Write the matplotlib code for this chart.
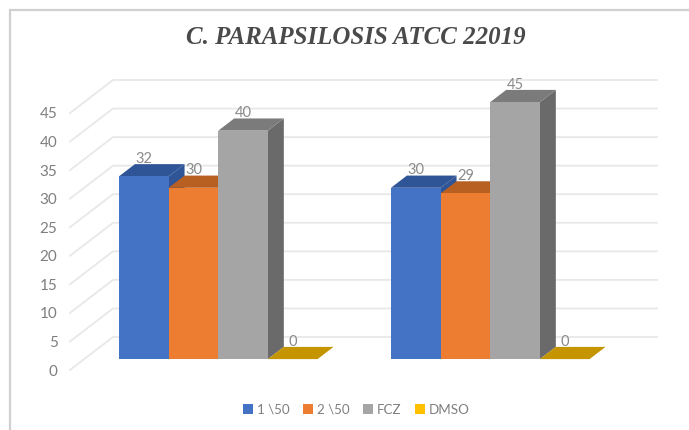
"""Grouped pseudo-3D bar chart: C. parapsilosis ATCC 22019."""
import matplotlib
matplotlib.use("Agg")
import matplotlib.pyplot as plt
from matplotlib.patches import Polygon, Rectangle, Patch

# ── Data ──────────────────────────────────────────────────────────────
GROUPS = [0, 1]
SERIES = ["1 \\50", "2 \\50", "FCZ", "DMSO"]
VALUES_1 = [32, 30, 40, 0]
VALUES_2 = [30, 29, 45, 0]
Y_TICKS = [0, 5, 10, 15, 20, 25, 30, 35, 40, 45]

# front, top and side shades per series
FRONT = ["#4472c4", "#ed7d31", "#a5a5a5", "#ffc000"]
TOP = ["#2f5597", "#b85f22", "#7b7b7b", "#c49500"]
SIDE = ["#2f5597", "#b85f22", "#6a6a6a", "#c49500"]

# ── Layout ────────────────────────────────────────────────────────────
W, H = 689, 430
LEFT, RIGHT, FLOOR, TOP_45 = 70, 614, 370, 113   # front plane, pixels
DEPTH_X = 43 / 272                                # wall depth in x units
DEPTH_Y = 33 / (257 / 45)                         # wall depth in y units
BAR_W = 0.1825
GROUP_PAD = 0.128
D0, D1 = 0.33, 0.70                               # bar extent in the depth

plt.rcParams["font.family"] = ["Lato", "DejaVu Sans"]
fig = plt.figure(figsize=(W / 100, H / 100), dpi=100)
ax = fig.add_axes([LEFT / W, (H - FLOOR) / H, (RIGHT - LEFT) / W, (FLOOR - TOP_45) / H])
ax.set_xlim(0, 2)
ax.set_ylim(0, 45)
ax.patch.set_visible(False)
for s in ax.spines.values():
    s.set_visible(False)


def project(x, y, d):
    """Shift a front-plane point back by depth fraction d."""
    return (x + d * DEPTH_X, y + d * DEPTH_Y)


def draw_bar(x, value, idx, zorder):
    p = project
    right = x + BAR_W
    ax.add_patch(Polygon([p(right, 0, D0), p(right, 0, D1), p(right, value, D1), p(right, value, D0)],
                         fc=SIDE[idx], ec="none", clip_on=False, zorder=zorder))
    ax.add_patch(Polygon([p(x, value, D0), p(x, value, D1), p(right, value, D1), p(right, value, D0)],
                         fc=TOP[idx], ec="none", clip_on=False, zorder=zorder))
    ax.add_patch(Polygon([p(x, 0, D0), p(right, 0, D0), p(right, value, D0), p(x, value, D0)],
                         fc=FRONT[idx], ec="none", clip_on=False, zorder=zorder))
    # value label sits above the front centre of the bar
    lx, ly = p(x + BAR_W / 2, value, D0)
    ax.annotate(str(value), (lx, ly), xytext=(0, 12.6), textcoords="offset points", ha="center", va="center",
                fontsize=10.5, color="#8a8a8a", zorder=20, annotation_clip=False)


# ── Walls ─────────────────────────────────────────────────────────────
for t in Y_TICKS:
    x0, y0 = project(0, t, 0)
    x1, y1 = project(0, t, 1)
    x2, y2 = project(2, t, 1)
    ax.plot([x0, x1, x2], [y0, y1, y2], color="#e8e8e8", lw=1.3, clip_on=False, zorder=1)

# ── Bars ──────────────────────────────────────────────────────────────
for g, vals in zip(GROUPS, [VALUES_1, VALUES_2]):
    for i, v in enumerate(vals):
        draw_bar(g + GROUP_PAD + i * BAR_W, v, i, 5 + i)

ax.set_xticks([])
ax.set_yticks(Y_TICKS)
ax.tick_params(axis="y", length=0, pad=9, labelsize=11, labelcolor="#7f7f7f")

# ── Title, legend, border ─────────────────────────────────────────────
fig.text(355.5 / W, 1 - 38 / H, "C. PARAPSILOSIS ATCC 22019", ha="center", va="center",
         fontsize=17.9, fontweight="bold", fontstyle="italic", family="Liberation Serif", color="#4a4a4a")

handles = [Patch(fc=c, ec="none") for c in FRONT]
fig.legend(handles, SERIES, loc="center", bbox_to_anchor=(356 / W, 1 - 409.5 / H), ncol=4, frameon=False,
           fontsize=9.6, labelcolor="#7f7f7f", handlelength=0.75, handleheight=0.75,
           handletextpad=0.3, columnspacing=1.0)

fig.add_artist(Rectangle((9.5 / W, -0.1), 1.1, 1 - 10 / H + 0.1, transform=fig.transFigure,
                         fc="none", ec="#d0d0d0", lw=1.6))

fig.savefig("out.png", dpi=100)
